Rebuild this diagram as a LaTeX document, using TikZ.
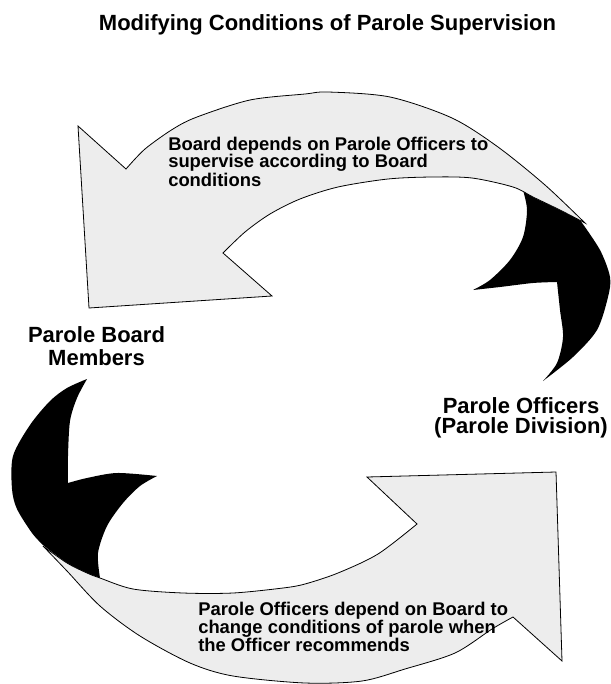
\documentclass[tikz,border=0pt]{standalone}
\usepackage{fontspec}
\setmainfont{Liberation Sans}
\definecolor{ribbongray}{gray}{0.93}

\begin{document}
\begin{tikzpicture}[
        x=0.75pt, y=-0.75pt,
        ribbon/.style={fill=ribbongray, draw=black, line width=0.6pt, line join=miter},
        underside/.style={fill=black},
        party/.style={font=\fontsize{16.5}{17.25}\selectfont\bfseries, align=center, inner sep=0pt},
        note/.style={font=\fontsize{13.8}{13.5}\selectfont\bfseries, align=left, inner sep=0pt}
    ]
    \useasboundingbox (0,0) rectangle (610,684);

    \node[anchor=base, inner sep=0pt, font=\fontsize{16.5}{18}\selectfont\bfseries] (title) at (327.5,30.7) {Modifying Conditions of Parole Supervision};

    % undersides
    \fill[underside] (523,190) -- plot[smooth] coordinates {(523,190) (527,210) (523,237) (510,260) (490,280) (473,290)}
        -- plot[smooth] coordinates {(473,290) (500,287) (533,283) (557,282)}
        -- plot[smooth] coordinates {(557,282) (560,310) (563,337) (557,363) (543,381)}
        -- plot[smooth] coordinates {(543,381) (573,357) (597,330) (608,297) (610,277) (600,250) (580,220)}
        -- plot[smooth] coordinates {(580,220) (560,210) (533,197) (523,190)} -- cycle;
    \fill[underside] (87,379) -- plot[smooth] coordinates {(87,379) (77,398) (70,421) (68,456) (68,483)}
        -- plot[smooth] coordinates {(68,483) (87,478) (117,473) (157,476)}
        -- plot[smooth] coordinates {(157,476) (140,486) (123,503) (107,526) (98,553) (100,578)}
        -- plot[smooth] coordinates {(100,578) (87,573) (67,563) (43,545)}
        -- plot[smooth] coordinates {(43,545) (32,533) (17,509) (12,489) (13,456) (30,425) (50,401) (67,388) (87,379)} -- cycle;

    % ribbons
    \filldraw[ribbon] (78,126) -- (126,169)
        -- plot[smooth] coordinates {(126,169) (145,149) (173,129) (197,117) (250,100) (305,94) (328,92) (390,97) (452,118) (498,147) (545,185) (585,223)}
        -- plot[smooth] coordinates {(585,223) (560,210) (533,197) (513,187) (472,178) (432,177) (388,179) (338,187) (300,199) (270,214) (245,232) (223,253)}
        -- (272,296) -- (89,308) -- cycle;
    \filldraw[ribbon] (367,477) -- (556,472) -- (562,661) -- (513,617)
        -- plot[smooth] coordinates {(513,617) (492,629) (455,653) (405,669) (362,681) (305,683) (233,676) (190,663) (140,636) (100,606) (67,571) (43,546)}
        -- plot[smooth] coordinates {(43,546) (67,563) (87,573) (100,578) (133,589) (183,593) (233,593) (283,588) (305,584) (338,573) (378,554) (417,524)}
        -- cycle;

    \node[note, anchor=base west] (boardnote) at (168,186) {Board depends on Parole Officers to\\supervise according to Board\\conditions};
    \node[note, anchor=base west] (officernote) at (198,651) {Parole Officers depend on Board to\\change conditions of parole when\\the Officer recommends};

    \node[party, anchor=base] (board) at (96.5,365) {Parole Board\\Members};
    \node[party, anchor=base, font=\fontsize{16.5}{15}\selectfont\bfseries] (officers) at (521,433) {Parole Officers\\(Parole Division)};
\end{tikzpicture}
\end{document}
